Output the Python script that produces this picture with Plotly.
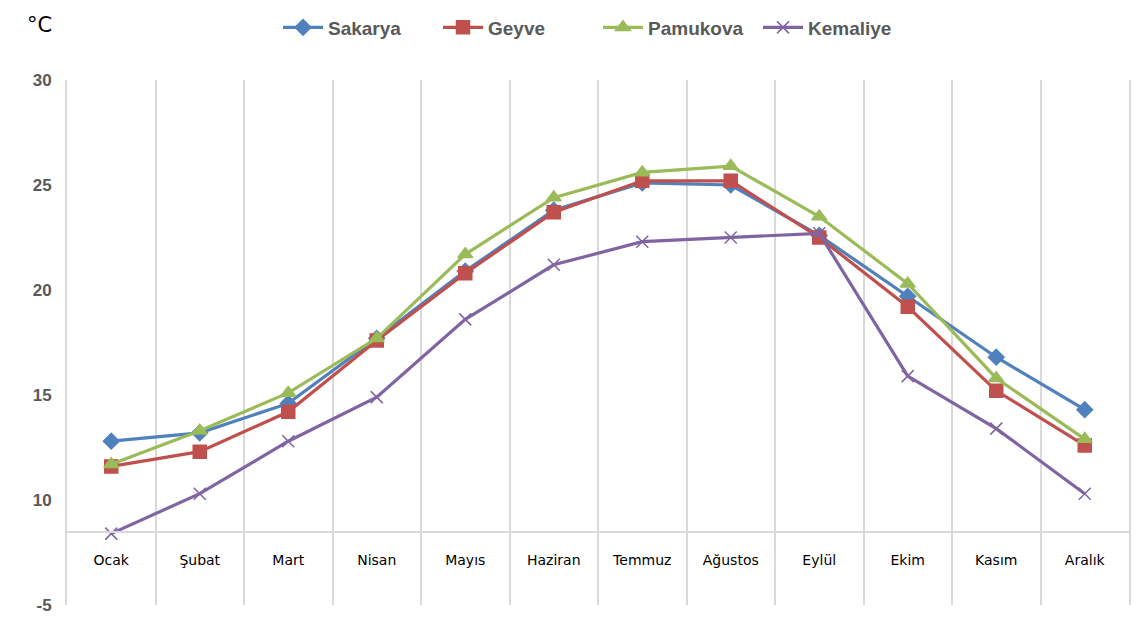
import plotly.graph_objects as go

months = ["Ocak", "Şubat", "Mart", "Nisan", "Mayıs", "Haziran", "Temmuz",
          "Ağustos", "Eylül", "Ekim", "Kasım", "Aralık"]
sakarya = [12.8, 13.2, 14.6, 17.7, 20.9, 23.8, 25.1, 25.0, 22.6, 19.7, 16.8, 14.3]
geyve = [11.6, 12.3, 14.2, 17.6, 20.8, 23.7, 25.2, 25.2, 22.5, 19.2, 15.2, 12.6]
pamukova = [11.7, 13.3, 15.1, 17.7, 21.7, 24.4, 25.6, 25.9, 23.5, 20.3, 15.8, 12.9]
kemaliye = [8.4, 10.3, 12.8, 14.9, 18.6, 21.2, 22.3, 22.5, 22.7, 15.9, 13.4, 10.3]

ytick_vals = [5, 10, 15, 20, 25, 30]
ytick_text = ["-5", "10", "15", "20", "25", "30"]
y_min, y_max = 5, 30
x_cross = 8.5

series = [
    ("Sakarya", sakarya, "#4F81BD", "diamond", 12),
    ("Geyve", geyve, "#C0504D", "square", 13),
    ("Pamukova", pamukova, "#9BBB59", "triangle-up", 13),
    ("Kemaliye", kemaliye, "#8064A2", "x-thin-open", 12),
]

fig = go.Figure()
for name, vals, color, sym, size in series:
    fig.add_trace(go.Scatter(
        x=months, y=vals, name=name, mode="lines+markers",
        line=dict(color=color, width=3.2),
        marker=dict(symbol=sym, size=size, color=color,
                    line=dict(color=color, width=1.5)),
    ))

fig.update_layout(
    width=1145, height=635,
    margin=dict(l=59, r=24, t=72, b=38, autoexpand=False),
    paper_bgcolor="white", plot_bgcolor="white",
    showlegend=True,
    legend=dict(orientation="h", x=0.5, xanchor="center", y=1.1, yanchor="middle",
                font=dict(family="Liberation Sans", size=19, color="#595959", weight="bold"),
                itemwidth=40, entrywidth=105, entrywidthmode="pixels"),
    xaxis=dict(
        type="category", range=[-0.5, 11.5], automargin=False,
        anchor="free", position=(x_cross - y_min) / (y_max - y_min),
        showline=True, linecolor="#D9D9D9", linewidth=2,
        showgrid=True, gridcolor="#D9D9D9", gridwidth=2, tickson="boundaries",
        ticks="", ticklen=0, ticklabelstandoff=16,
        tickfont=dict(family="DejaVu Sans", size=14, color="#000000"),
    ),
    yaxis=dict(
        range=[y_min, y_max], tickvals=ytick_vals, ticktext=ytick_text,
        showgrid=False, zeroline=False, automargin=False,
        showline=True, linecolor="#D9D9D9", linewidth=2, mirror=True,
        tickfont=dict(family="Liberation Sans", size=17, color="#595959", weight="bold"),
        ticklabelstandoff=10,
    ),
    annotations=[dict(text="°C", xref="paper", yref="paper", x=-0.0395, y=1.105,
                      xanchor="left", yanchor="middle", showarrow=False,
                      font=dict(family="DejaVu Sans", size=21, color="#000000"))],
)

fig.write_html("out.html")
